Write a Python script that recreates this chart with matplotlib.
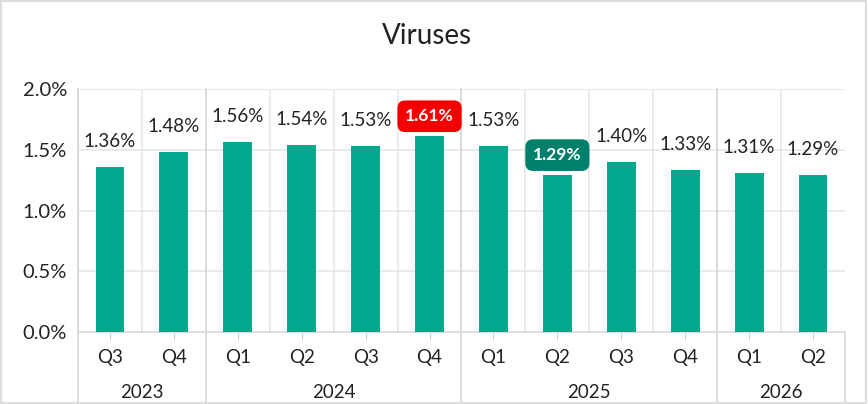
import matplotlib.pyplot as plt
from matplotlib.patches import Rectangle
from matplotlib.lines import Line2D

# data
quarters = ["Q3", "Q4", "Q1", "Q2", "Q3", "Q4", "Q1", "Q2", "Q3", "Q4", "Q1", "Q2"]
years = ["2023", "2024", "2025", "2026"]
year_counts = [2, 4, 4, 2]
values = [1.36, 1.48, 1.56, 1.54, 1.53, 1.61, 1.53, 1.29, 1.40, 1.33, 1.31, 1.29]
highlight = {5: "#F50000", 7: "#00806B"}

plt.rcParams['font.family'] = ['Lato', 'DejaVu Sans']
bar_color = "#02A88E"
text_color = "#222222"
grid_color = "#E6E6E6"

fig = plt.figure(figsize=(8.68, 4.04), dpi=100)
ax = fig.add_axes([78 / 868, 72 / 404, 767 / 868, 243 / 404])

x = list(range(len(values)))
ax.bar(x, values, width=0.45, color=bar_color, zorder=3)
ax.set_xlim(-0.5, len(values) - 0.5)
ax.set_ylim(0, 2.0)
ax.set_yticks([0, 0.5, 1.0, 1.5, 2.0])
ax.set_yticklabels([f"{v:.1f}%" for v in [0, 0.5, 1.0, 1.5, 2.0]],
                   fontsize=14.5, color=text_color)
ax.set_xticks(x)
ax.set_xticklabels(quarters, fontsize=13.5, color=text_color)
ax.tick_params(axis='x', length=6, color="#D0D0D0", pad=6)
ax.tick_params(axis='y', length=0, pad=8)

for s in ["top", "right"]:
    ax.spines[s].set_visible(False)
ax.spines["left"].set_color("#D8D8D8")
ax.spines["bottom"].set_color("#D8D8D8")
ax.spines["left"].set_linewidth(1.2)
ax.spines["bottom"].set_linewidth(1.2)

for yv in [0.5, 1.0, 1.5, 2.0]:
    ax.axhline(yv, color=grid_color, lw=1.2, zorder=1)
for b in range(len(values) - 1):
    ax.axvline(b + 0.5, color=grid_color, lw=1.2, zorder=1)

# value labels
for i, v in enumerate(values):
    if i in highlight:
        ax.annotate(f"{v:.2f}%", (i, v), xytext=(0, 14.5), textcoords="offset points",
                    ha="center", va="center", fontsize=12.5, fontweight="bold",
                    color="white",
                    bbox=dict(boxstyle="round,pad=0.45,rounding_size=0.45",
                              fc=highlight[i], ec="none"), zorder=5)
    else:
        ax.annotate(f"{v:.2f}%", (i, v), xytext=(0, 18.5), textcoords="offset points",
                    ha="center", va="center", fontsize=13.5, color=text_color, zorder=5)

# year groups
trans = ax.get_xaxis_transform()
start = 0
bounds = [-0.5]
for yr, c in zip(years, year_counts):
    mid = start + (c - 1) / 2
    ax.text(mid, -0.25, yr, transform=trans, ha="center", va="center",
            fontsize=13.5, color=text_color)
    start += c
    bounds.append(start - 0.5)
for b in bounds:
    top = 1.0 if b < len(values) - 1 else 0.0
    ax.add_line(Line2D([b, b], [top, -0.32], transform=trans, color="#D8D8D8",
                       lw=1.2, clip_on=False, zorder=2))

fig.text(427 / 868, 1 - 36 / 404, "Viruses", ha="center", va="center",
         fontsize=20, color=text_color)

fig.patches.append(Rectangle((0.001, 0.002), 0.997, 0.995, transform=fig.transFigure,
                             fill=False, ec="#DDDDDD", lw=1.5))

fig.savefig("out.png", dpi=100)
